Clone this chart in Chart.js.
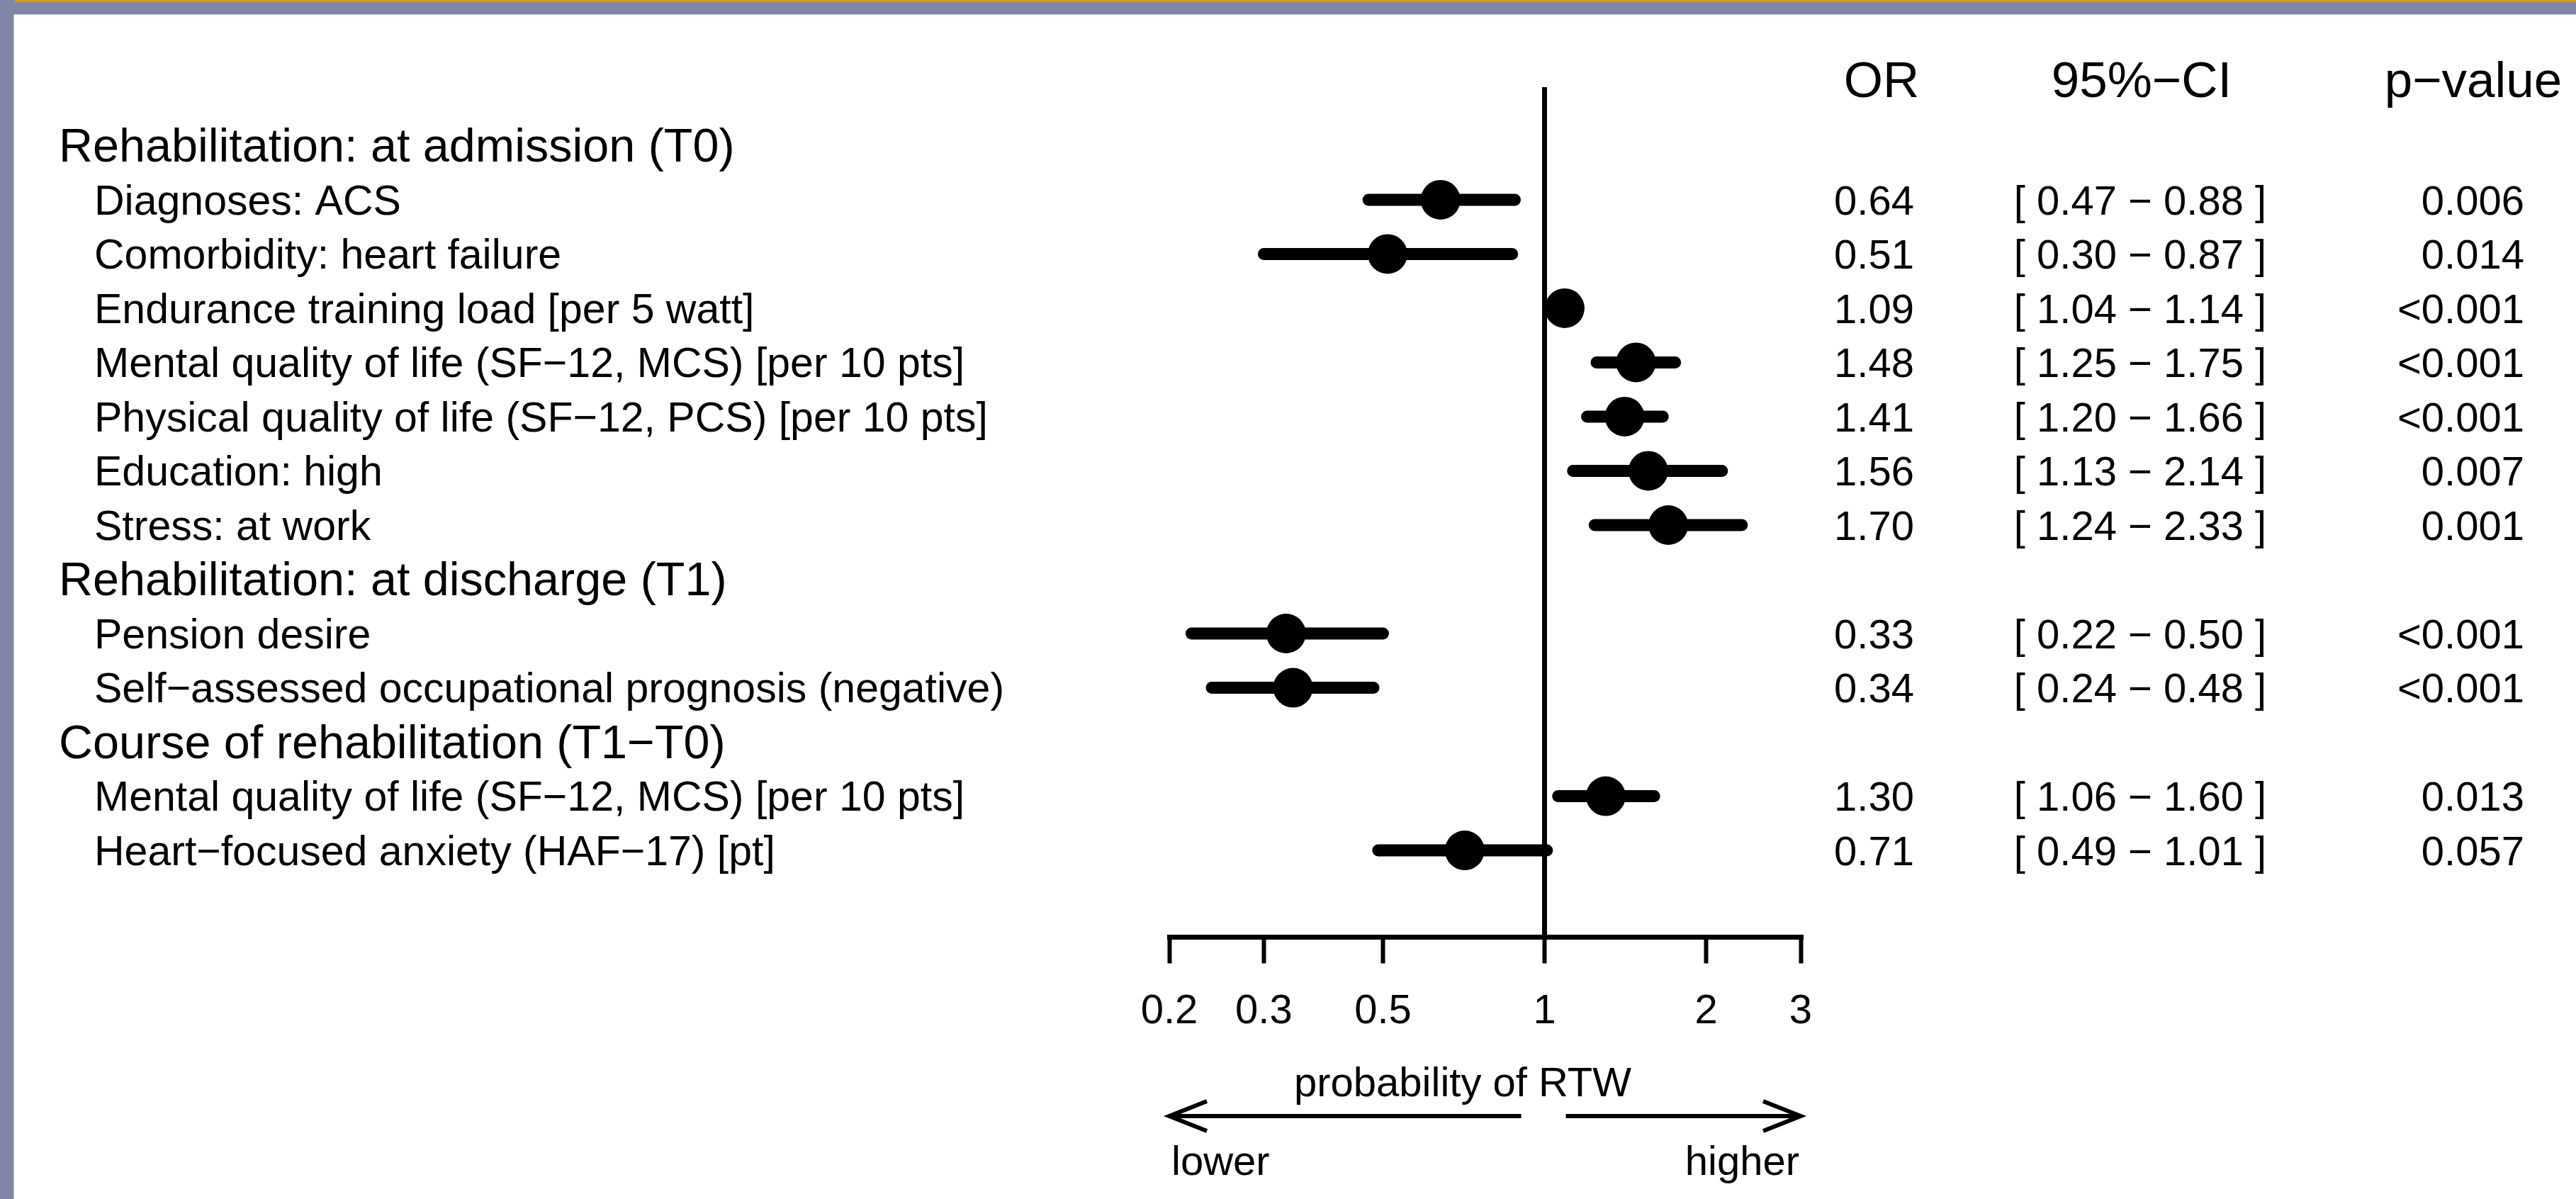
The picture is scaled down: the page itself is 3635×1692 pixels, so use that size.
<!DOCTYPE html>
<html>
<head>
<meta charset="utf-8">
<script src="https://cdn.jsdelivr.net/npm/chart.js@4/dist/chart.umd.min.js"></script>
<style>
  html, body { margin: 0; padding: 0; background: #ffffff; overflow: hidden; }
  #frameLeft { position: absolute; left: 0; top: 0; width: 19px; height: 1692px; background: #8086a7; }
  #frameTop { position: absolute; left: 0; top: 0; width: 3635px; height: 20px; background: #8086a7; }
  #frameOrange { position: absolute; left: 21px; top: 0; width: 3614px; height: 3px; background: #e09a00; }
  #frameEdgeL { position: absolute; left: 19px; top: 20px; width: 1px; height: 1672px; background: #c4c6da; }
  #frameEdgeT { position: absolute; left: 19px; top: 20px; width: 3616px; height: 1px; background: #c4c6da; }
  #c { position: absolute; left: 0; top: 0; }
</style>
</head>
<body>
<div id="frameLeft"></div>
<div id="frameTop"></div>
<div id="frameOrange"></div>
<div id="frameEdgeL"></div>
<div id="frameEdgeT"></div>
<canvas id="c" width="3635" height="1692"></canvas>
<script>
// ---------------- data ----------------
const rowLabels = [
  "Rehabilitation: at admission (T0)",
  "Diagnoses: ACS",
  "Comorbidity: heart failure",
  "Endurance training load [per 5 watt]",
  "Mental quality of life (SF\u221212, MCS) [per 10 pts]",
  "Physical quality of life (SF\u221212, PCS) [per 10 pts]",
  "Education: high",
  "Stress: at work",
  "Rehabilitation: at discharge (T1)",
  "Pension desire",
  "Self\u2212assessed occupational prognosis (negative)",
  "Course of rehabilitation (T1\u2212T0)",
  "Mental quality of life (SF\u221212, MCS) [per 10 pts]",
  "Heart\u2212focused anxiety (HAF\u221217) [pt]"
];
const sectionRows = [0, 8, 11];
const orValues = [null, 0.64, 0.51, 1.09, 1.48, 1.41, 1.56, 1.70, null, 0.33, 0.34, null, 1.30, 0.71];
const ciLower  = [null, 0.47, 0.30, 1.04, 1.25, 1.20, 1.13, 1.24, null, 0.22, 0.24, null, 1.06, 0.49];
const ciUpper  = [null, 0.88, 0.87, 1.14, 1.75, 1.66, 2.14, 2.33, null, 0.50, 0.48, null, 1.60, 1.01];
const pValues  = [null, "0.006", "0.014", "<0.001", "<0.001", "<0.001", "0.007", "0.001", null, "<0.001", "<0.001", null, "0.013", "0.057"];
const columnHeaders = ["OR", "95%\u2212CI", "p\u2212value"];
const xTickValues = [0.2, 0.3, 0.5, 1, 2, 3];
const xTickLabels = ["0.2", "0.3", "0.5", "1", "2", "3"];
const nullEffect = 1;
const axisTitle = "probability of RTW";
const directionLabels = ["lower", "higher"];

// ---------------- layout / style ----------------
const FONT = "'Liberation Sans', Arial, Helvetica, sans-serif";
const Y_MIN = -1.078, Y_MAX = 14.601;

const ciDatasets = [];
orValues.forEach((v, i) => {
  if (v === null) return;
  ciDatasets.push({
    data: [{x: ciLower[i], y: i}, {x: ciUpper[i], y: i}],
    showLine: true,
    borderColor: '#000',
    borderWidth: 17,
    borderCapStyle: 'round',
    pointRadius: 0,
    pointHoverRadius: 0,
    clip: false,
    order: 2
  });
});
const pointDataset = {
  data: orValues.map((v, i) => v === null ? null : {x: v, y: i}).filter(d => d !== null),
  showLine: false,
  pointRadius: 28,
  pointHoverRadius: 28,
  pointBackgroundColor: '#000',
  pointBorderColor: '#000',
  pointBorderWidth: 0,
  clip: false,
  order: 1
};

const textPlugin = {
  id: 'forestText',
  afterDraw(chart) {
    const ctx = chart.ctx;
    const ys = chart.scales.y;
    const xs = chart.scales.x;
    ctx.save();
    ctx.fillStyle = '#000';
    ctx.textBaseline = 'alphabetic';

    // column headers
    ctx.font = `71px ${FONT}`;
    ctx.textAlign = 'center';
    const headerY = 137;
    ctx.fillText(columnHeaders[0], 2655, headerY);
    ctx.fillText(columnHeaders[1], 3022, headerY);
    ctx.fillText(columnHeaders[2], 3490, headerY);

    rowLabels.forEach((lab, i) => {
      const py = ys.getPixelForValue(i);
      const isSection = sectionRows.includes(i);
      if (isSection) {
        ctx.font = `66.5px ${FONT}`;
        ctx.textAlign = 'left';
        ctx.fillText(lab, 83, py + 0.345 * 66.5);
      } else {
        ctx.font = `59px ${FONT}`;
        ctx.textAlign = 'left';
        const by = py + 0.355 * 59;
        ctx.fillText(lab, 133, by);
        ctx.font = `58px ${FONT}`;
        ctx.textAlign = 'right';
        ctx.fillText(orValues[i].toFixed(2), 2701, by);
        ctx.textAlign = 'center';
        ctx.fillText(`[ ${ciLower[i].toFixed(2)} \u2212 ${ciUpper[i].toFixed(2)} ]`, 3020, by);
        ctx.textAlign = 'right';
        ctx.fillText(pValues[i], 3562, by);
      }
    });

    // axis title and direction arrows
    const x0 = xs.getPixelForValue(xTickValues[0]);
    const x1 = xs.getPixelForValue(xTickValues[xTickValues.length - 1]);
    const xm = xs.getPixelForValue(nullEffect);
    ctx.font = `58px ${FONT}`;
    ctx.textAlign = 'center';
    ctx.fillText(axisTitle, 2064, 1547);

    const ay = 1575;
    ctx.strokeStyle = '#000';
    ctx.lineWidth = 6;
    ctx.lineCap = 'butt';
    ctx.lineJoin = 'miter';
    ctx.beginPath();
    ctx.moveTo(xm - 33, ay); ctx.lineTo(x0, ay);
    ctx.moveTo(x0 + 53, ay - 21); ctx.lineTo(x0, ay); ctx.lineTo(x0 + 53, ay + 21);
    ctx.moveTo(xm + 30, ay); ctx.lineTo(x1, ay);
    ctx.moveTo(x1 - 53, ay - 21); ctx.lineTo(x1, ay); ctx.lineTo(x1 - 53, ay + 21);
    ctx.stroke();

    ctx.textAlign = 'left';
    ctx.fillText(directionLabels[0], x0 + 3, 1658);
    ctx.textAlign = 'right';
    ctx.fillText(directionLabels[1], x1 - 2, 1658);
    ctx.restore();
  }
};

new Chart(document.getElementById('c'), {
  type: 'scatter',
  data: { datasets: [...ciDatasets, pointDataset] },
  options: {
    responsive: false,
    devicePixelRatio: 1,
    animation: false,
    events: [],
    layout: { padding: { left: 1650, right: 1094, top: 123, bottom: 229.5 } },
    plugins: { legend: { display: false }, tooltip: { enabled: false }, title: { display: false } },
    scales: {
      x: {
        type: 'logarithmic',
        position: 'bottom',
        min: 0.2,
        max: 3,
        afterBuildTicks: (s) => { s.ticks = xTickValues.map(v => ({ value: v })); },
        afterFit: (s) => { s.height = 140; },
        border: { display: true, width: 7, color: '#000' },
        grid: {
          display: true,
          drawOnChartArea: true,
          drawTicks: true,
          color: (c) => (c.tick && c.tick.value === nullEffect) ? '#000' : 'rgba(0,0,0,0)',
          lineWidth: 7,
          tickLength: 37,
          tickColor: '#000',
          tickWidth: 6
        },
        ticks: {
          autoSkip: false,
          maxRotation: 0,
          minRotation: 0,
          padding: 34,
          color: '#000',
          font: { family: FONT, size: 58 },
          callback: (v, idx) => xTickLabels[idx]
        }
      },
      y: {
        type: 'linear',
        display: false,
        reverse: true,
        min: Y_MIN,
        max: Y_MAX
      }
    }
  },
  plugins: [textPlugin]
});
</script>
</body>
</html>
